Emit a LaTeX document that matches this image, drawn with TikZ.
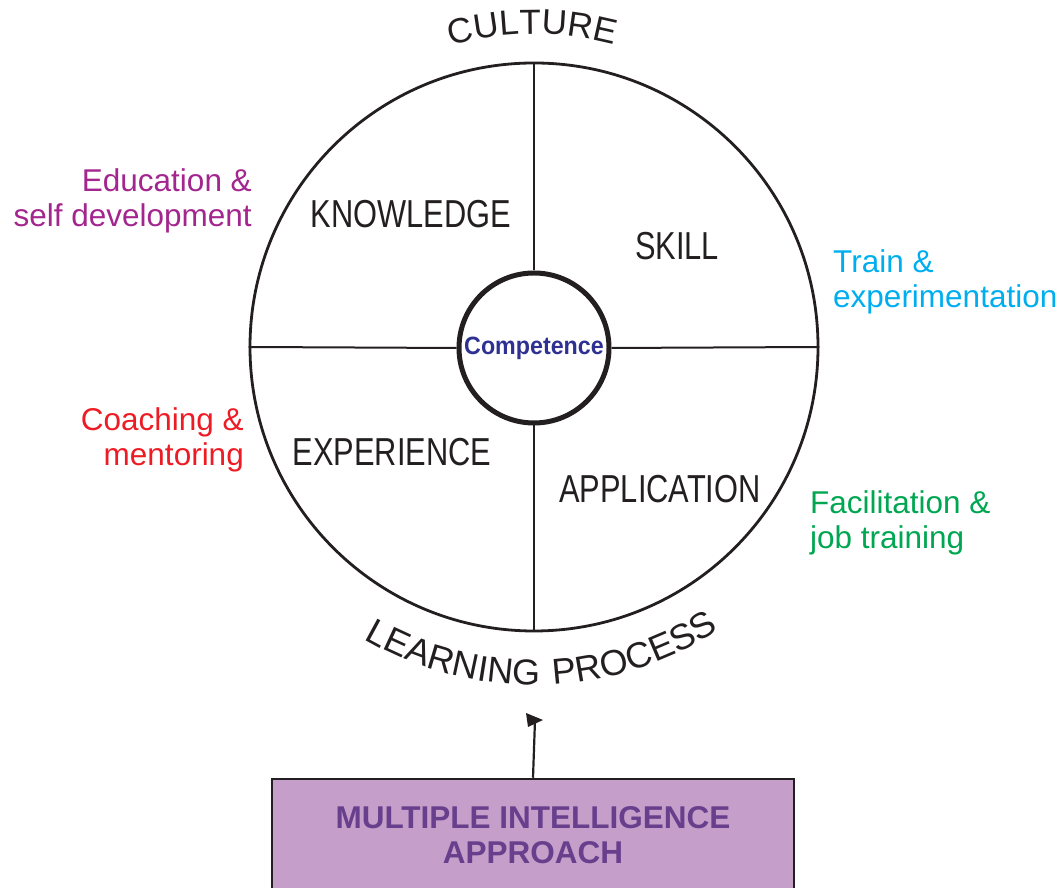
\documentclass[tikz,border=0pt]{standalone}
\usepackage{fontspec}
\setmainfont{Liberation Sans}
\newfontfamily\narrowf[FakeStretch=0.79]{Liberation Sans}
\newfontfamily\compf[FakeStretch=0.93]{Liberation Sans}
\newfontfamily\arcf[LetterSpace=10]{Liberation Sans}
\newfontfamily\arcg[LetterSpace=11]{Liberation Sans}
\usetikzlibrary{decorations.text,calc}
\definecolor{ink}{RGB}{35,31,32}
\definecolor{edu}{RGB}{163,38,142}
\definecolor{train}{RGB}{0,174,239}
\definecolor{coach}{RGB}{237,28,36}
\definecolor{facil}{RGB}{0,166,81}
\definecolor{comp}{RGB}{46,49,146}
\definecolor{boxfill}{RGB}{197,159,202}
\definecolor{boxtext}{RGB}{104,63,140}
\begin{document}
\begin{tikzpicture}[x=1pt,y=1pt,
  quad/.style={font=\narrowf\fontsize{39}{39}\selectfont, text=ink, inner sep=0pt},
  sidel/.style={font=\fontsize{31.5}{35}\selectfont, inner sep=0pt, align=right, anchor=base east},
  sider/.style={font=\fontsize{31.5}{35}\selectfont, inner sep=0pt, align=left, anchor=base west},
  ring/.style={ink, line width=2pt}]
\useasboundingbox (0,0) rectangle (1063,888);
\clip (0,0) rectangle (1063,888);
\coordinate (cen) at (534,541);
\node[circle, draw=ink, line width=2.8pt, minimum size=568pt, inner sep=0pt] (big) at (cen) {};
\node[circle, draw=ink, line width=5pt, minimum size=150pt, inner sep=0pt,
      font=\compf\bfseries\fontsize{25}{25}\selectfont, text=comp] (comp) at (534,540) {Competence};
\draw[ring] (big.north) -- (comp.north);
\draw[ring] (big.south) -- (comp.south);
\draw[ring] (big.west) -- (comp.west);
\draw[ring] (big.east) -- (comp.east);
\node[quad] (know) at (411,674) {KNOWLEDGE};
\node[quad] (skill) at (677,642) {SKILL};
\node[quad] (exp) at (392,436) {EXPERIENCE};
\node[quad] (app) at (660,399) {APPLICATION};
\node[sidel, text=edu] (edu) at (252,661) {Education \&\\self development};
\node[sider, text=train] (train) at (833,580) {Train \&\\experimentation};
\node[sidel, text=coach] (coach) at (244,422) {Coaching \&\\mentoring};
\node[sider, text=facil] (facil) at (810,339) {Facilitation \&\\job training};
\path[decorate, decoration={text along path, text color=ink,
  text={|\arcf\fontsize{35}{35}\selectfont|CULTURE}, text align=center}]
  ($(cen)+(160.3:313)$) arc[start angle=160.3, end angle=20.3, radius=313];
\path[decorate, decoration={text along path, text color=ink,
  text={|\arcg\fontsize{36}{36}\selectfont|LEARNING PROCESS}, text align=center}]
  ($(cen)+(201.5:338)$) arc[start angle=201.5, end angle=341.5, radius=338];
\node[draw=ink, fill=boxfill, line width=2.5pt, minimum width=522pt, minimum height=113pt,
      inner sep=0pt, font=\bfseries\fontsize{31.5}{35}\selectfont, text=boxtext, align=center]
      (mi) at (533,52.5) {MULTIPLE INTELLIGENCE\\APPROACH};
\coordinate (tip) at (535,168);
\draw[ink, line width=2.2pt] (mi.north) -- (tip);
\fill[ink] (tip) ++(-9,7) -- ++(17,-7) -- ++(-15,-7) -- cycle;
\end{tikzpicture}
\end{document}
